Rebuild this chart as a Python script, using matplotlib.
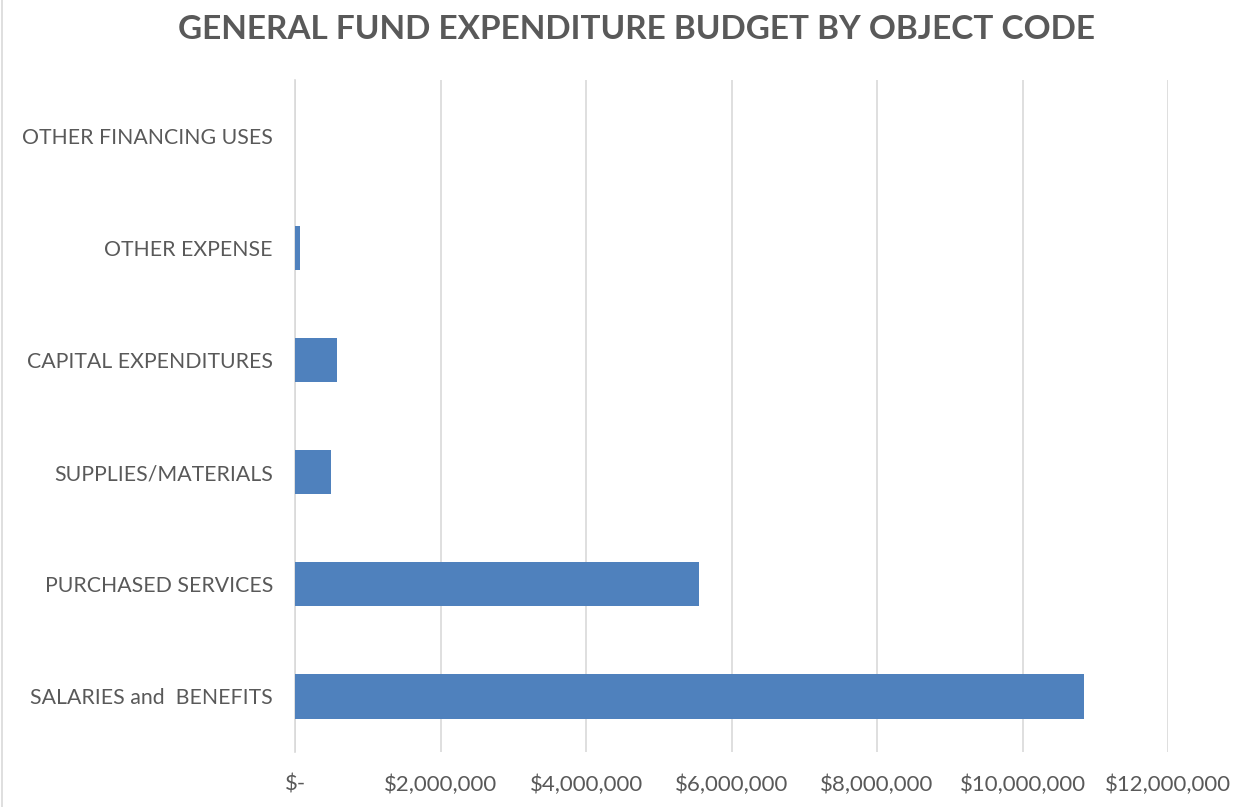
import matplotlib
matplotlib.use('Agg')
import matplotlib.pyplot as plt
from matplotlib.ticker import FuncFormatter

# data (dollars)
categories = ['SALARIES and  BENEFITS', 'PURCHASED SERVICES', 'SUPPLIES/MATERIALS',
              'CAPITAL EXPENDITURES', 'OTHER EXPENSE', 'OTHER FINANCING USES']
budget = [10840000, 5555000, 500000, 580000, 65000, 0]
xticks = [0, 2000000, 4000000, 6000000, 8000000, 10000000, 12000000]

plt.rcParams['font.family'] = ['Lato', 'DejaVu Sans']

grey = '#595959'
blue = '#4f81bd'

fig = plt.figure(figsize=(12.4, 8.07), dpi=100)
ax = fig.add_axes([0.238, 0.068, 0.704, 0.833])

ax.barh(range(len(categories)), budget, height=0.4, color=blue, zorder=3)
ax.set_ylim(-0.5, len(categories) - 0.5)
ax.set_xlim(0, 12000000)
ax.set_xticks(xticks)
ax.xaxis.set_major_formatter(FuncFormatter(lambda v, p: '$-' if v == 0 else '${:,.0f}'.format(v)))
ax.set_yticks(range(len(categories)))
ax.set_yticklabels(categories)

ax.grid(axis='x', color='#d9d9d9', linewidth=1.2, zorder=0)
for s in ['top', 'right', 'bottom']:
    ax.spines[s].set_visible(False)
ax.spines['left'].set_color('#d9d9d9')
ax.spines['left'].set_linewidth(1.2)
ax.tick_params(axis='both', length=0, colors=grey)
ax.tick_params(axis='x', pad=16, labelsize=16)
ax.tick_params(axis='y', pad=16, labelsize=15.3)

fig.text(0.513, 0.963, 'GENERAL FUND EXPENDITURE BUDGET BY OBJECT CODE', ha='center', va='center',
         fontsize=24, fontweight='bold', color=grey)
fig.add_artist(plt.Line2D([0.002, 0.002], [0, 1], color='#d9d9d9', linewidth=1.2))

fig.savefig('out.png', dpi=100)
